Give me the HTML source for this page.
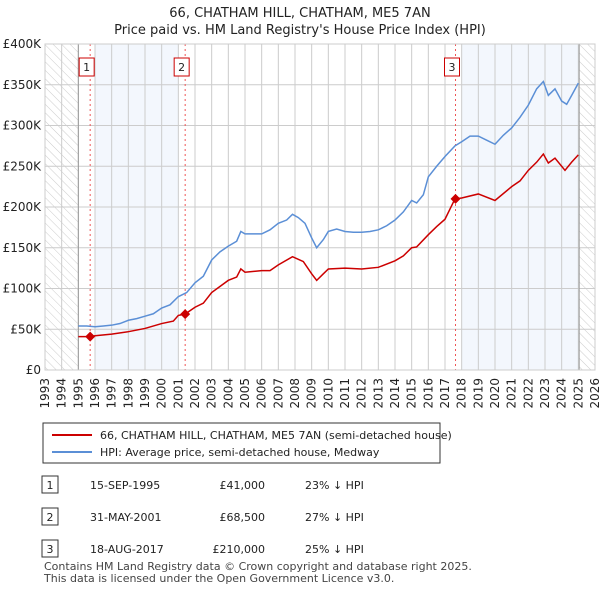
<!DOCTYPE html>
<html><head><meta charset="utf-8"><style>
body{margin:0;background:#fff;font-family:"Liberation Sans","DejaVu Sans",sans-serif;}
</style></head><body>
<svg width="600" height="590" xmlns="http://www.w3.org/2000/svg" font-family="DejaVu Sans, Liberation Sans, sans-serif">
<defs><pattern id="hatch" width="6" height="6" patternUnits="userSpaceOnUse" patternTransform="rotate(-45)"><line x1="0" y1="0" x2="0" y2="6" stroke="#ccc" stroke-width="1"/></pattern></defs>
<text x="300" y="17" text-anchor="middle" font-size="13" fill="#222">66, CHATHAM HILL, CHATHAM, ME5 7AN</text>
<text x="300" y="34" text-anchor="middle" font-size="13" fill="#222">Price paid vs. HM Land Registry's House Price Index (HPI)</text>
<g id="plot"></g>
<g>
<rect x="43" y="423" width="397" height="40" fill="#fff" stroke="#333"/>
<line x1="52" y1="435" x2="92" y2="435" stroke="#cc0000" stroke-width="2"/>
<text x="100" y="439" font-size="11" fill="#222">66, CHATHAM HILL, CHATHAM, ME5 7AN (semi-detached house)</text>
<line x1="52" y1="452" x2="92" y2="452" stroke="#5b8fd6" stroke-width="2"/>
<text x="100" y="456" font-size="11" fill="#222">HPI: Average price, semi-detached house, Medway</text>
</g>
<g font-size="11" fill="#222">
<rect x="42" y="476" width="16" height="17" fill="#fff" stroke="#333"/><text x="50" y="489" text-anchor="middle">1</text>
<text x="90" y="489">15-SEP-1995</text><text x="265" y="489" text-anchor="end">£41,000</text><text x="305" y="489">23% ↓ HPI</text>
<rect x="42" y="508" width="16" height="17" fill="#fff" stroke="#333"/><text x="50" y="521" text-anchor="middle">2</text>
<text x="90" y="521">31-MAY-2001</text><text x="265" y="521" text-anchor="end">£68,500</text><text x="305" y="521">27% ↓ HPI</text>
<rect x="42" y="540" width="16" height="17" fill="#fff" stroke="#333"/><text x="50" y="553" text-anchor="middle">3</text>
<text x="90" y="553">18-AUG-2017</text><text x="265" y="553" text-anchor="end">£210,000</text><text x="305" y="553">25% ↓ HPI</text>
</g>
<text x="44" y="570" font-size="11" fill="#444">Contains HM Land Registry data © Crown copyright and database right 2025.</text>
<text x="44" y="582" font-size="11" fill="#444">This data is licensed under the Open Government Licence v3.0.</text>
</svg>
<script>
const hpiYears=[1995,1995.5,1996,1996.5,1997,1997.5,1998,1998.5,1999,1999.5,2000,2000.5,2001,2001.5,2002,2002.5,2003,2003.5,2004,2004.5,2004.75,2005,2006,2006.5,2007,2007.5,2007.85,2008.2,2008.6,2009,2009.3,2009.7,2010,2010.5,2011,2011.5,2012,2012.5,2013,2013.5,2014,2014.5,2015,2015.3,2015.7,2016,2016.5,2017,2017.6,2018,2018.5,2019,2019.5,2020,2020.5,2021,2021.5,2022,2022.5,2022.9,2023.2,2023.6,2024,2024.3,2024.6,2025];
const hpiValues=[54,54,53,54,55,57,61,63,66,69,76,80,90,95,107,115,135,145,152,158,170,167,167,172,180,184,191,187,180,162,150,160,170,173,170,169,169,170,172,177,184,194,208,205,215,237,250,262,275,280,287,287,282,277,288,297,310,325,345,354,337,345,330,326,337,352];
const priceYears=[1995,1995.7,1996,1997,1998,1999,2000,2000.7,2001,2001.4,2002,2002.5,2003,2004,2004.5,2004.75,2005,2006,2006.5,2007,2007.85,2008.5,2009,2009.3,2009.7,2010,2011,2012,2013,2014,2014.5,2015,2015.3,2016,2016.5,2017,2017.6,2018,2019,2020,2021,2021.5,2022,2022.5,2022.9,2023.2,2023.6,2024.2,2024.6,2025];
const priceValues=[41,41,42,44,47,51,57,60,67,68.5,77,82,95,110,114,124,120,122,122,129,139,133,118,110,118,124,125,124,126,134,140,150,151,166,176,185,210,211,216,208,225,232,245,255,265,254,260,245,255,264];
const saleYears=[1995.71,2001.41,2017.63];
const saleValues=[41,68.5,210];
const saleLabels=["1","2","3"];
const yTicks=[0,50,100,150,200,250,300,350,400];
const yTickLabels=["£0","£50K","£100K","£150K","£200K","£250K","£300K","£350K","£400K"];
const xTicks=[1993,1994,1995,1996,1997,1998,1999,2000,2001,2002,2003,2004,2005,2006,2007,2008,2009,2010,2011,2012,2013,2014,2015,2016,2017,2018,2019,2020,2021,2022,2023,2024,2025,2026];

const L=45,R=595,T=44,B=370;
const xs=y=>L+(y-1993)/33*(R-L);
const ys=v=>B-v/400*(B-T);
const NS="http://www.w3.org/2000/svg";
const g=document.getElementById('plot');
function mk(tag,attrs,name,parent){const e=document.createElementNS(NS,tag);for(const k in attrs)e.setAttribute(k,attrs[k]);


(parent||g).appendChild(e);return e;}
mk('rect',{x:L,y:T,width:R-L,height:B-T,fill:'#fff'},'plot-background');
mk('rect',{x:xs(1996),y:T,width:xs(2001)-xs(1996),height:B-T,fill:'#eef3fc',opacity:0.7},'shade-1');
mk('rect',{x:xs(2018),y:T,width:xs(2025.05)-xs(2018),height:B-T,fill:'#eef3fc',opacity:0.7},'shade-2');
mk('rect',{x:L,y:T,width:xs(1995)-L,height:B-T,fill:'url(#hatch)'},'hatch-left');
mk('rect',{x:xs(2025.05),y:T,width:R-xs(2025.05),height:B-T,fill:'url(#hatch)'},'hatch-right');
xTicks.forEach(t=>{mk('line',{x1:xs(t),y1:T,x2:xs(t),y2:B,stroke:'#ccc','stroke-width':1},'x-grid-line');
const tx=mk('text',{x:0,y:0,transform:`translate(${xs(t)+4},${B+8}) rotate(-90)`,'text-anchor':'end','font-size':12,fill:'#222'},'x-tick-label');tx.textContent=t;});
yTicks.forEach((t,i)=>{mk('line',{x1:L,y1:ys(t),x2:R,y2:ys(t),stroke:'#ccc','stroke-width':1},'y-grid-line');
const tx=mk('text',{x:L-4,y:ys(t)+4,'text-anchor':'end','font-size':12,fill:'#222'},'y-tick-label');tx.textContent=yTickLabels[i];});
mk('line',{x1:xs(1995),y1:T,x2:xs(1995),y2:B,stroke:'#999'},'data-start-line');
mk('line',{x1:xs(2025.05),y1:T,x2:xs(2025.05),y2:B,stroke:'#999'},'data-end-line');
saleYears.forEach((y,i)=>{mk('line',{x1:xs(y),y1:T,x2:xs(y),y2:B,stroke:'#e55','stroke-dasharray':'2,3'},'sale-marker-line');
const bx=xs(y)-11;
mk('rect',{x:bx,y:58,width:15,height:18,fill:'#fff',stroke:'#c00'},'sale-label-box');
const tx=mk('text',{x:bx+7.5,y:71,'text-anchor':'middle','font-size':11,fill:'#222'},'sale-label');tx.textContent=saleLabels[i];});
mk('polyline',{points:hpiYears.map((y,i)=>xs(y)+','+ys(hpiValues[i])).join(' '),fill:'none',stroke:'#5b8fd6','stroke-width':1.5},'hpi-line');
mk('polyline',{points:priceYears.map((y,i)=>xs(y)+','+ys(priceValues[i])).join(' '),fill:'none',stroke:'#cc0000','stroke-width':1.5},'price-line');
saleYears.forEach((y,i)=>{const cx=xs(y),cy=ys(saleValues[i]);
mk('polygon',{points:`${cx},${cy-5} ${cx+5},${cy} ${cx},${cy+5} ${cx-5},${cy}`,fill:'#cc0000'},'sale-point');});
mk('rect',{x:L,y:T,width:R-L,height:B-T,fill:'none',stroke:'#ccc'},'plot-border');
</script>
</body></html>
